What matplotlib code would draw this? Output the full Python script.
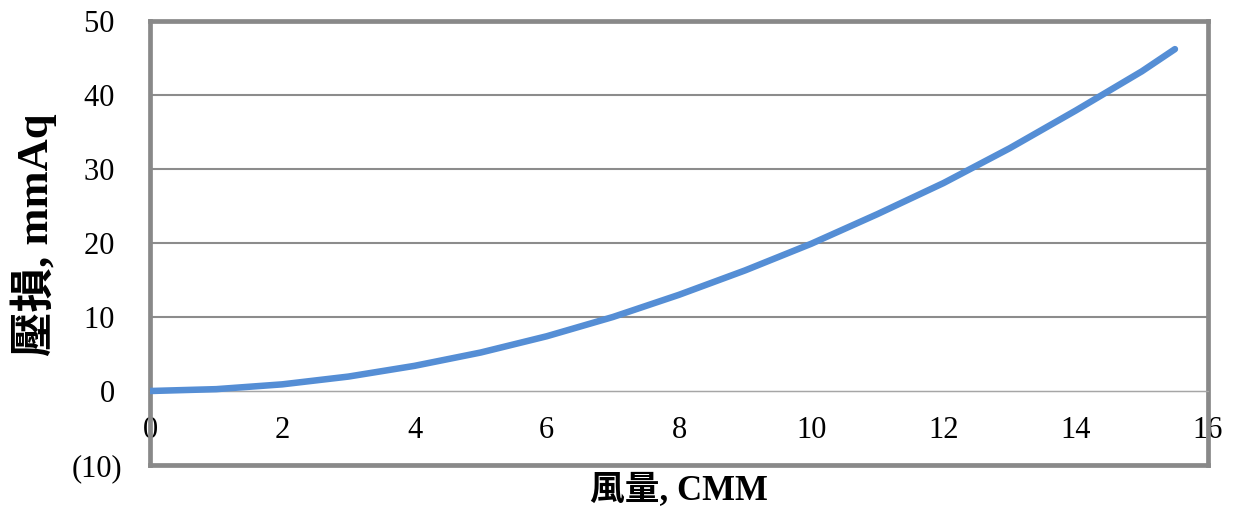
import matplotlib
matplotlib.use("Agg")
import matplotlib.pyplot as plt

# air flow (CMM) vs pressure loss (mmAq)
flow = [0, 1, 2, 3, 4, 5, 6, 7, 8, 9, 10, 11, 12, 13, 14, 15, 15.5]
loss = [0, 0.25, 0.9, 1.95, 3.4, 5.2, 7.4, 10.0, 13.0, 16.3, 19.9, 23.9, 28.1, 32.8, 37.9, 43.2, 46.2]

x_ticks = [0, 2, 4, 6, 8, 10, 12, 14, 16]
y_ticks = [-10, 0, 10, 20, 30, 40, 50]
y_labels = ["(10)", "0 ", "10 ", "20 ", "30 ", "40 ", "50 "]

frame_color = "#898989"
grid_color = "#8c8c8c"
line_color = "#558ed5"
tick_font = "Liberation Serif"
label_fonts = ["Liberation Serif", "Noto Sans CJK TC"]

fig = plt.figure(figsize=(12.41, 5.11), dpi=100)
ax = fig.add_axes([0.1209, 0.0900, 0.8525, 0.8689])

ax.plot(flow, loss, color=line_color, lw=4.7, solid_capstyle="round",
        solid_joinstyle="round", zorder=5)

ax.set_xlim(0, 16)
ax.set_ylim(-10, 50)
ax.set_xticks(x_ticks)
ax.set_yticks(y_ticks)
ax.set_yticklabels(y_labels)

# horizontal gridlines, the zero line stays thin
ax.grid(axis="y", color=grid_color, lw=1.5)
for val, gl in zip(y_ticks, ax.yaxis.get_gridlines()):
    if val == 0:
        gl.set_linewidth(0.9)
        gl.set_color("#a6a6a6")

# x axis sits on y = 0, frame bottom drawn at y = -10
ax.spines["bottom"].set_position(("data", 0))
ax.spines["bottom"].set_color("#a6a6a6")
ax.spines["bottom"].set_linewidth(0.9)
for side in ["left", "right", "top"]:
    ax.spines[side].set_color(frame_color)
    ax.spines[side].set_linewidth(3.4)
ax.axhline(-10, color=frame_color, lw=3.4, clip_on=False, zorder=6)

ax.tick_params(axis="both", length=0, labelsize=22)
ax.tick_params(axis="x", pad=18)
ax.tick_params(axis="y", pad=20)
for lbl in ax.get_xticklabels() + ax.get_yticklabels():
    lbl.set_fontfamily(tick_font)

ax.set_xlabel("風量, CMM", family=label_fonts, fontweight="bold", fontsize=25)
ax.set_ylabel("壓損, mmAq", family=label_fonts, fontweight="bold", fontsize=32)
ax.xaxis.set_label_coords(0.5, -0.02)
ax.yaxis.set_label_coords(-0.088, 0.518)

fig.savefig("out.png", dpi=100)
